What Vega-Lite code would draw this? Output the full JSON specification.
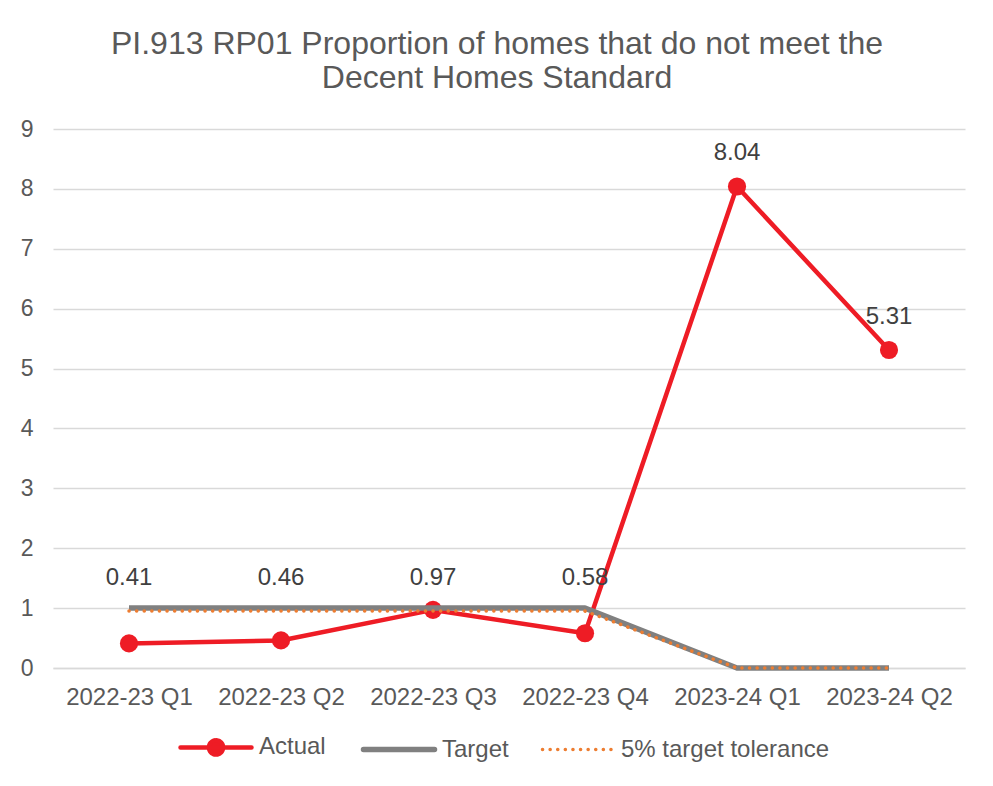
{
  "$schema": "https://vega.github.io/schema/vega-lite/v6.json",
  "autosize": {"type": "none"},
  "padding": {"left": 53, "top": 129, "right": 28, "bottom": 118},
  "width": 912,
  "height": 539,
  "background": "white",
  "title": {
    "text": ["PI.913 RP01 Proportion of homes that do not meet the", "Decent Homes Standard"],
    "fontSize": 32,
    "fontWeight": "normal",
    "color": "#595959",
    "anchor": "middle",
    "frame": "group",
    "dx": -12,
    "lineHeight": 34,
    "offset": 23
  },
  "config": {
    "font": "Liberation Sans",
    "view": {"stroke": null}
  },
  "data": {
    "values": [
      {"quarter": "2022-23 Q1", "series": "Actual", "value": 0.41},
      {"quarter": "2022-23 Q2", "series": "Actual", "value": 0.46},
      {"quarter": "2022-23 Q3", "series": "Actual", "value": 0.97},
      {"quarter": "2022-23 Q4", "series": "Actual", "value": 0.58},
      {"quarter": "2023-24 Q1", "series": "Actual", "value": 8.04},
      {"quarter": "2023-24 Q2", "series": "Actual", "value": 5.31},
      {"quarter": "2022-23 Q1", "series": "Target", "value": 1},
      {"quarter": "2022-23 Q2", "series": "Target", "value": 1},
      {"quarter": "2022-23 Q3", "series": "Target", "value": 1},
      {"quarter": "2022-23 Q4", "series": "Target", "value": 1},
      {"quarter": "2023-24 Q1", "series": "Target", "value": 0},
      {"quarter": "2023-24 Q2", "series": "Target", "value": 0},
      {"quarter": "2022-23 Q1", "series": "5% target tolerance", "value": 0.95},
      {"quarter": "2022-23 Q2", "series": "5% target tolerance", "value": 0.95},
      {"quarter": "2022-23 Q3", "series": "5% target tolerance", "value": 0.95},
      {"quarter": "2022-23 Q4", "series": "5% target tolerance", "value": 0.95},
      {"quarter": "2023-24 Q1", "series": "5% target tolerance", "value": 0},
      {"quarter": "2023-24 Q2", "series": "5% target tolerance", "value": 0}
    ]
  },
  "encoding": {
    "x": {
      "field": "quarter",
      "type": "ordinal",
      "sort": null,
      "scale": {"type": "point", "padding": 0.5},
      "axis": {
        "title": null,
        "labelAngle": 0,
        "labelFontSize": 24,
        "labelColor": "#595959",
        "labelPadding": 17,
        "ticks": false,
        "domain": true,
        "domainColor": "#d9d9d9",
        "domainWidth": 1.5,
        "grid": false
      }
    },
    "y": {
      "field": "value",
      "type": "quantitative",
      "scale": {"domain": [0, 9], "nice": false, "zero": true},
      "axis": {
        "title": null,
        "values": [0, 1, 2, 3, 4, 5, 6, 7, 8, 9],
        "labelFontSize": 23,
        "labelColor": "#595959",
        "labelPadding": 20,
        "ticks": false,
        "domain": false,
        "grid": true,
        "gridColor": "#d9d9d9",
        "gridWidth": 1.5
      }
    },
    "color": {
      "field": "series",
      "type": "nominal",
      "scale": {
        "domain": ["Actual", "Target", "5% target tolerance"],
        "range": ["#EE1C25", "#808080", "#ED7D31"]
      },
      "legend": {
        "title": null,
        "orient": "none",
        "legendX": 151,
        "legendY": 606,
        "direction": "horizontal",
        "labelFontSize": 24,
        "labelColor": "#595959",
        "labelLimit": 400,
        "labelOffset": 31,
        "columnPadding": 26,
        "symbolSize": 5041,
        "symbolStrokeWidth": 5,
        "encode": {
          "symbols": {
            "update": {
              "shape": {"signal": "datum.value === 'Actual' ? 'M-1,0L1,0M-0.2,0A0.2,0.2 0 1,0 0.2,0A0.2,0.2 0 1,0 -0.2,0Z' : 'M-1,0L1,0'"},
              "fill": {"signal": "datum.value === 'Actual' ? '#EE1C25' : 'transparent'"},
              "strokeDash": {"signal": "datum.value === '5% target tolerance' ? [0.1, 7.5] : [1, 0]"},
              "strokeWidth": {"signal": "datum.value === '5% target tolerance' ? 3.5 : (datum.value === 'Target' ? 5.5 : 4.5)"},
              "strokeCap": {"value": "round"}
            }
          }
        }
      }
    }
  },
  "layer": [
    {
      "transform": [{"filter": "datum.series === 'Actual'"}],
      "mark": {"type": "line", "strokeWidth": 4.5, "strokeJoin": "round"}
    },
    {
      "transform": [{"filter": "datum.series === 'Actual'"}],
      "mark": {"type": "point", "filled": true, "opacity": 1, "size": 330, "shape": "circle"}
    },
    {
      "transform": [{"filter": "datum.series === 'Target'"}],
      "mark": {"type": "line", "strokeWidth": 5.5, "strokeJoin": "round"}
    },
    {
      "transform": [{"filter": "datum.series === '5% target tolerance'"}],
      "mark": {"type": "line", "strokeWidth": 3.5, "strokeDash": [0.1, 7.5], "strokeCap": "round"}
    },
    {
      "transform": [{"filter": "datum.series === 'Actual' && datum.value < 2"}],
      "mark": {"type": "text", "fontSize": 24, "baseline": "middle", "dy": -30},
      "encoding": {
        "y": {"datum": 1, "type": "quantitative"},
        "text": {"field": "value", "type": "quantitative", "format": ".2f"},
        "color": {"value": "#404040"}
      }
    },
    {
      "transform": [{"filter": "datum.series === 'Actual' && datum.value >= 2"}],
      "mark": {"type": "text", "fontSize": 24, "baseline": "middle", "dy": -33},
      "encoding": {
        "text": {"field": "value", "type": "quantitative", "format": ".2f"},
        "color": {"value": "#404040"}
      }
    }
  ]
}
